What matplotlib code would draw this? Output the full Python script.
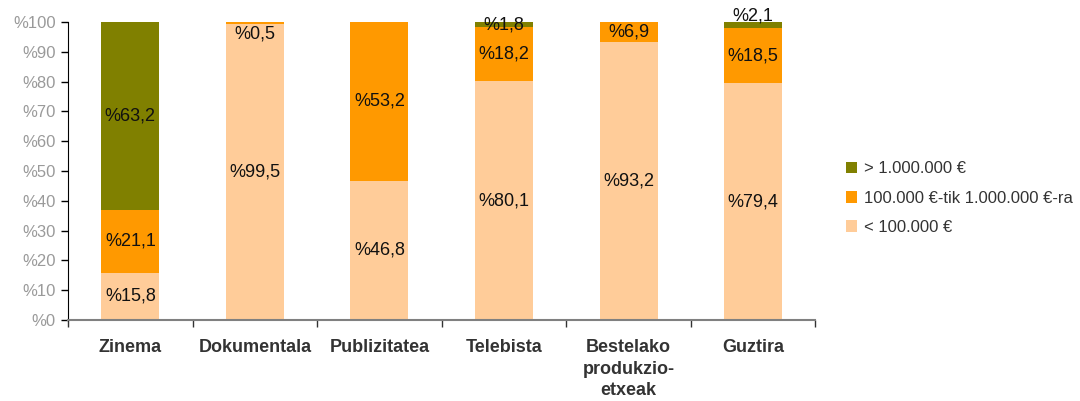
import numpy as np
import matplotlib.pyplot as plt

# Data
categories = ["Zinema", "Dokumentala", "Publizitatea", "Telebista",
              "Bestelako\nprodukzio-\netxeak", "Guztira"]
low = [15.8, 99.5, 46.8, 80.1, 93.2, 79.4]
mid = [21.1, 0.5, 53.2, 18.2, 6.9, 18.5]
high = [63.2, 0.0, 0.0, 1.8, 0.0, 2.1]
series_names = ["< 100.000 €", "100.000 €-tik 1.000.000 €-ra", "> 1.000.000 €"]
yticks = [0, 10, 20, 30, 40, 50, 60, 70, 80, 90, 100]

colors = ["#FFCC99", "#FF9900", "#808000"]

plt.rcParams['font.family'] = ['Liberation Sans', 'DejaVu Sans']

fig = plt.figure(figsize=(10.8, 4.01), dpi=100)
ax = fig.add_axes([0.063, 0.202, 0.692, 0.743])

x = np.arange(len(categories))
width = 0.466
bottom = np.zeros(len(categories))
bars = []
for vals, col, name in zip([low, mid, high], colors, series_names):
    vals = np.array(vals)
    b = ax.bar(x, vals, width, bottom=bottom, color=col, label=name, linewidth=0)
    bars.append(b)
    for i, v in enumerate(vals):
        if v <= 0:
            continue
        yc = bottom[i] + v / 2
        # small segments: push the label inside/above like the original
        if v < 1:
            yc = bottom[i] - 3.5
        elif v < 2 and bottom[i] + v >= 99:
            yc = 99.0
        elif v < 3 and bottom[i] + v >= 99:
            yc = 102.0
        label = "%" + ("%.1f" % v).replace(".", ",")
        ax.text(x[i], yc, label, ha="center", va="center", fontsize=13,
                color="#111111", clip_on=False)
    bottom += vals

ax.set_xlim(-0.5, len(categories) - 0.5)
ax.set_ylim(0, 100)
ax.set_yticks(yticks)
ax.set_yticklabels(["%" + str(t) for t in yticks], fontsize=12, color="#9a9a9a")
ax.tick_params(axis="y", direction="out", length=5, width=1, color="black", pad=4)

ax.set_xticks(x)
ax.set_xticklabels(categories, fontsize=13, fontweight="bold", color="#333333",
                   linespacing=1.33)
ax.tick_params(axis="x", which="major", length=0, pad=14)
ax.set_xticks(np.arange(-0.5, len(categories)), minor=True)
ax.tick_params(axis="x", which="minor", direction="out", length=5, width=1,
               color="#333333")

for s in ["top", "right"]:
    ax.spines[s].set_visible(False)
ax.spines["left"].set_color("black")
ax.spines["bottom"].set_color("#808080")
ax.spines["bottom"].set_linewidth(1.5)

handles = [bars[2], bars[1], bars[0]]
labels = [series_names[2], series_names[1], series_names[0]]
fig.legend(handles, labels, loc="center left", bbox_to_anchor=(0.783, 0.506),
           bbox_transform=fig.transFigure, frameon=False, fontsize=12,
           handlelength=0.7, handleheight=0.7, handletextpad=0.4,
           labelspacing=0.85, borderpad=0, borderaxespad=0,
           labelcolor="#333333")

fig.savefig("out.png", dpi=100)
